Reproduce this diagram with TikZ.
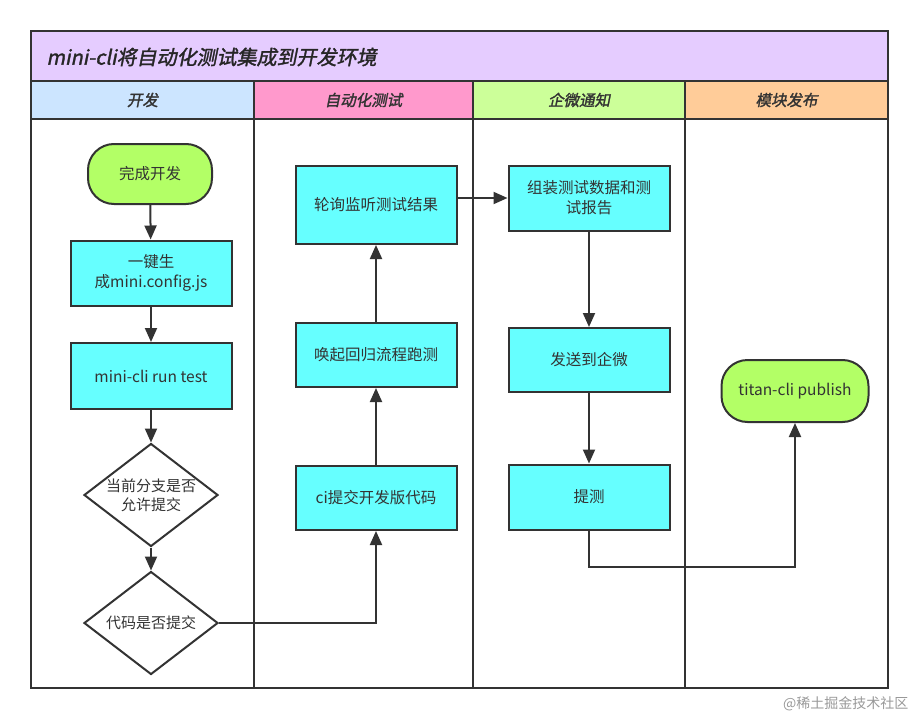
\documentclass[tikz,border=0pt]{standalone}
\usepackage{fontspec}
\setmainfont{Noto Sans CJK SC}
\newfontfamily\headfont[FakeSlant=0.2,FakeBold=1.6]{Noto Sans CJK SC}
\usetikzlibrary{shapes.geometric, arrows.meta, positioning}
\definecolor{LineGray}{HTML}{333333}
\definecolor{TitlePurple}{HTML}{E5CCFF}
\definecolor{LaneBlue}{HTML}{CCE5FF}
\definecolor{LanePink}{HTML}{FF99CC}
\definecolor{LaneGreen}{HTML}{CCFF99}
\definecolor{LaneOrange}{HTML}{FFCC99}
\definecolor{StepCyan}{HTML}{66FFFF}
\definecolor{TermLime}{HTML}{B3FF66}
\tikzset{
  laneline/.style={draw=LineGray, line width=2pt},
  lanehead/.style={font=\headfont\fontsize{15.5}{18}\selectfont, text=LineGray},
  stepbox/.style={rectangle, draw=LineGray, line width=2pt, fill=StepCyan, minimum width=161pt, minimum height=65pt, font=\fontsize{15.5}{20}\selectfont, text=LineGray, align=center, inner sep=2pt},
  termbox/.style={rectangle, rounded corners=26pt, draw=LineGray, line width=2pt, fill=TermLime, minimum width=124pt, minimum height=60pt, font=\fontsize{15.5}{20}\selectfont, text=LineGray, align=center},
  decisionbox/.style={diamond, aspect=1.3, draw=LineGray, line width=2pt, fill=white, minimum width=134pt, minimum height=103pt, inner sep=0pt, font=\fontsize{15}{19}\selectfont, text=LineGray, align=center},
  arrow/.style={-{Triangle[length=14pt, width=12pt]}, line width=2pt, LineGray}
}
\begin{document}
\begin{tikzpicture}[x=1pt, y=-1pt]
  \useasboundingbox (0,0) rectangle (919,720);

  % swimlanes
  \draw[laneline, fill=TitlePurple] (31,31) rectangle (888,81);
  \draw[laneline, fill=LaneBlue] (31,81) rectangle (254,119);
  \draw[laneline, fill=LanePink] (254,81) rectangle (473,119);
  \draw[laneline, fill=LaneGreen] (473,81) rectangle (685,119);
  \draw[laneline, fill=LaneOrange] (685,81) rectangle (888,119);
  \draw[laneline] (31,119) rectangle (254,688);
  \draw[laneline] (254,119) rectangle (473,688);
  \draw[laneline] (473,119) rectangle (685,688);
  \draw[laneline] (685,119) rectangle (888,688);

  \node[anchor=west, font=\headfont\fontsize{20}{22}\selectfont, text=black!85] (title) at (43,57) {mini-cli将自动化测试集成到开发环境};
  \node[lanehead] (devhead) at (142.5,100) {开发};
  \node[lanehead] (testhead) at (363.5,100) {自动化测试};
  \node[lanehead] (wxhead) at (579,100) {企微通知};
  \node[lanehead] (pubhead) at (786.5,100) {模块发布};

  % lane 1
  \node[termbox] (done) at (150,174) {完成开发};
  \node[stepbox] (genconf) at (151,273) {一键生\\成mini.config.js};
  \node[stepbox, minimum height=66pt] (runtest) at (151,376) {mini-cli run test};
  \node[decisionbox] (allow) at (151,495) {当前分支是否\\允许提交};
  \node[decisionbox] (commit) at (151,623) {代码是否提交};

  % lane 2
  \node[stepbox, minimum height=64pt] (cicommit) at (376,498) {ci提交开发版代码};
  \node[stepbox, minimum height=64pt] (regress) at (376,355) {唤起回归流程跑测};
  \node[stepbox, minimum height=78pt] (poll) at (376,205) {轮询监听测试结果};

  % lane 3
  \node[stepbox, minimum height=65pt] (report) at (589,198) {组装测试数据和测\\试报告};
  \node[stepbox, minimum height=64pt] (notify) at (589,360) {发送到企微};
  \node[stepbox, minimum height=65pt] (tice) at (589,497) {提测};

  % lane 4
  \node[termbox, minimum width=147pt, minimum height=62pt] (publish) at (795,391) {titan-cli publish};

  % flow
  \draw[arrow] (done) -- (genconf);
  \draw[arrow] (genconf) -- (runtest);
  \draw[arrow] (runtest) -- (allow);
  \draw[arrow] (allow) -- (commit);
  \draw[arrow] (commit.east) -| (cicommit.south);
  \draw[arrow] (cicommit) -- (regress);
  \draw[arrow] (regress) -- (poll);
  \draw[arrow] (poll.east |- report.west) -- (report.west);
  \draw[arrow] (report) -- (notify);
  \draw[arrow] (notify) -- (tice);
  \coordinate (turn) at (795,567);
  \draw[arrow] (tice.south) |- (turn) -- (publish.south);

  \node[anchor=east, font=\fontsize{14}{16}\selectfont, text=black!40] (mark) at (912,704) {@稀土掘金技术社区};
\end{tikzpicture}
\end{document}
